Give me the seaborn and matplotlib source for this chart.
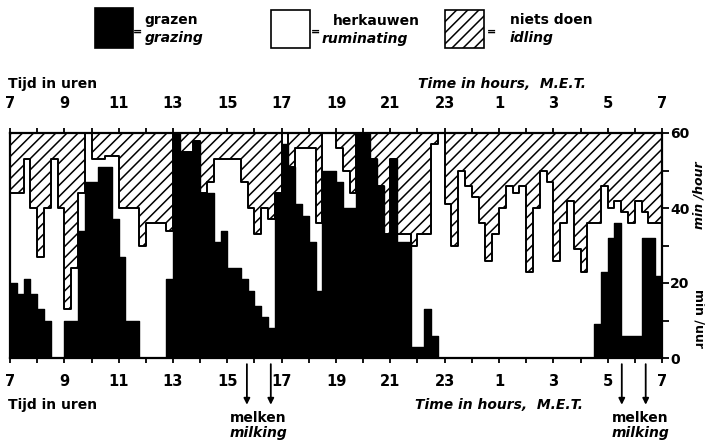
import numpy as np
import pandas as pd
import seaborn as sns
import matplotlib.pyplot as plt
from matplotlib.patches import Rectangle

# Minutes per hour spent on each activity, in quarter-hour steps from 07:00 to 07:00.
grazing = [20, 17, 21, 17, 13, 10, 0, 0, 10, 10,
           34, 47, 47, 51, 51, 37, 27, 10, 10, 0,
           0, 0, 0, 21, 60, 55, 55, 58, 44, 44,
           31, 34, 24, 24, 21, 18, 14, 11, 8, 44,
           57, 51, 41, 38, 31, 18, 50, 50, 47, 40,
           40, 60, 60, 53, 46, 33, 53, 31, 31, 3,
           3, 13, 6, 0, 0, 0, 0, 0, 0, 0,
           0, 0, 0, 0, 0, 0, 0, 0, 0, 0,
           0, 0, 0, 0, 0, 0, 9, 23, 32, 36,
           6, 6, 6, 32, 32, 22]
ruminating = [24, 27, 32, 23, 14, 30, 53, 40, 3, 14,
              10, 13, 6, 2, 3, 17, 13, 30, 30, 30,
              36, 36, 36, 13, 0, 0, 0, 0, 0, 3,
              22, 19, 29, 29, 26, 22, 19, 29, 29, 0,
              3, 0, 15, 18, 25, 18, 10, 10, 9, 10,
              4, 0, 0, 0, 0, 0, 0, 2, 2, 27,
              30, 20, 51, 60, 41, 30, 50, 46, 43, 36,
              26, 33, 40, 46, 44, 46, 23, 40, 50, 47,
              26, 36, 42, 29, 23, 36, 27, 23, 8, 6,
              33, 30, 36, 7, 4, 14]
clock_labels = ["7", "9", "11", "13", "15", "17", "19", "21", "23", "1", "3", "5", "7"]
milking_times = [8.72, 9.6, 22.52, 23.4]  # hours after 07:00

df = pd.DataFrame({"t": np.arange(96) * 0.25 + 0.125,
                   "grazing": grazing, "ruminating": ruminating})
df["idling"] = 60 - df["grazing"] - df["ruminating"]
df["busy"] = df["grazing"] + df["ruminating"]
df["total"] = df["busy"] + df["idling"]

sns.set_style("ticks")
plt.rcParams["font.family"] = ["DejaVu Sans"]
plt.rcParams["hatch.linewidth"] = 1.1
plt.rcParams["text.color"] = "black"
plt.rcParams["xtick.color"] = "black"
plt.rcParams["ytick.color"] = "black"
plt.rcParams["xtick.labelcolor"] = "black"
plt.rcParams["ytick.labelcolor"] = "black"

fig = plt.figure(figsize=(7.05, 4.45), dpi=100)
ax = fig.add_axes([10 / 705, 87 / 445, 652 / 705, 225 / 445])

# idling (hatched) at the back, ruminating (white) and grazing (black) stacked in front
hist_kw = dict(data=df, x="t", binwidth=0.25, binrange=(0, 24), element="step",
               fill=True, alpha=1, ax=ax)
sns.histplot(weights="total", color="white", edgecolor="black", hatch="///",
             linewidth=0, **hist_kw)
sns.histplot(weights="busy", color="white", edgecolor="black", linewidth=1.4, **hist_kw)
sns.histplot(weights="grazing", color="black", edgecolor="black", linewidth=1, **hist_kw)

ax.set_xlim(0, 24)
ax.set_ylim(0, 60)
ax.set_xlabel("")
ax.set_ylabel("")
for s in ax.spines.values():
    s.set_visible(True)
    s.set_linewidth(1.6)
    s.set_color("black")

ax.set_xticks(np.arange(0, 25, 2))
ax.set_xticks(np.arange(0, 25, 1), minor=True)
ax.set_xticklabels(clock_labels)
ax.tick_params(axis="x", which="both", top=True, labeltop=True, bottom=True,
               direction="inout", length=7, width=1.3, labelsize=10.5)
ax.tick_params(axis="x", which="major", pad=8)
for t in ax.xaxis.get_major_ticks():
    t.label1.set_fontweight("bold")
    t.label2.set_fontweight("bold")
    t.label2.set_y(1.027)

ax.yaxis.tick_right()
ax.set_yticks([0, 20, 40, 60])
ax.set_yticks(np.arange(0, 61, 10), minor=True)
ax.tick_params(axis="y", which="both", direction="out", length=5, width=1.3,
               labelsize=10, pad=1)
for lab in ax.get_yticklabels():
    lab.set_fontweight("bold")

# milking arrows below the axis
for h in milking_times:
    ax.annotate("", xy=(h, -0.22), xytext=(h, -0.015),
                xycoords=ax.get_xaxis_transform(), annotation_clip=False,
                arrowprops=dict(arrowstyle="-|>", color="black", lw=1.3,
                                mutation_scale=9))

# overlay in pixel coordinates for legend and titles
ov = fig.add_axes([0, 0, 1, 1])
ov.set_xlim(0, 705)
ov.set_ylim(445, 0)
ov.set_facecolor("none")
ov.axis("off")

ov.add_patch(Rectangle((95, 8), 38, 40, facecolor="black", edgecolor="black", lw=1.2))
ov.add_patch(Rectangle((271, 10), 39, 38, facecolor="white", edgecolor="black", lw=1.2))
ov.add_patch(Rectangle((445, 10), 39, 38, facecolor="white", edgecolor="black", lw=1.2,
                       hatch="///"))
for x in (138, 316, 491):
    ov.text(x, 32, "=", fontsize=8, fontweight="bold", ha="center", va="center")
ov.text(144, 20, "grazen", fontsize=10, fontweight="bold", va="center")
ov.text(145, 38, "grazing", fontsize=10, fontweight="bold", style="italic", va="center")
ov.text(333, 21, "herkauwen", fontsize=10, fontweight="bold", va="center")
ov.text(322, 39, "ruminating", fontsize=10, fontweight="bold", style="italic", va="center")
ov.text(510, 20, "niets doen", fontsize=10, fontweight="bold", va="center")
ov.text(510, 38, "idling", fontsize=10, fontweight="bold", style="italic", va="center")

ov.text(8, 84, "Tijd in uren", fontsize=10, fontweight="bold", va="center")
ov.text(418, 84, "Time in hours,  M.E.T.", fontsize=10, fontweight="bold",
        style="italic", va="center")
ov.text(8, 405, "Tijd in uren", fontsize=10, fontweight="bold", va="center")
ov.text(415, 405, "Time in hours,  M.E.T.", fontsize=10, fontweight="bold",
        style="italic", va="center")

for x in (258, 640):
    ov.text(x, 418, "melken", fontsize=10, fontweight="bold", ha="center", va="center")
    ov.text(x, 433, "milking", fontsize=10, fontweight="bold", style="italic",
            ha="center", va="center")

ov.text(699, 195, "min /hour", fontsize=9, fontweight="bold", style="italic",
        rotation=90, ha="center", va="center")
ov.text(699, 318, "min /uur", fontsize=9, fontweight="bold", rotation=-90,
        ha="center", va="center")

fig.savefig("out.png", dpi=100)
